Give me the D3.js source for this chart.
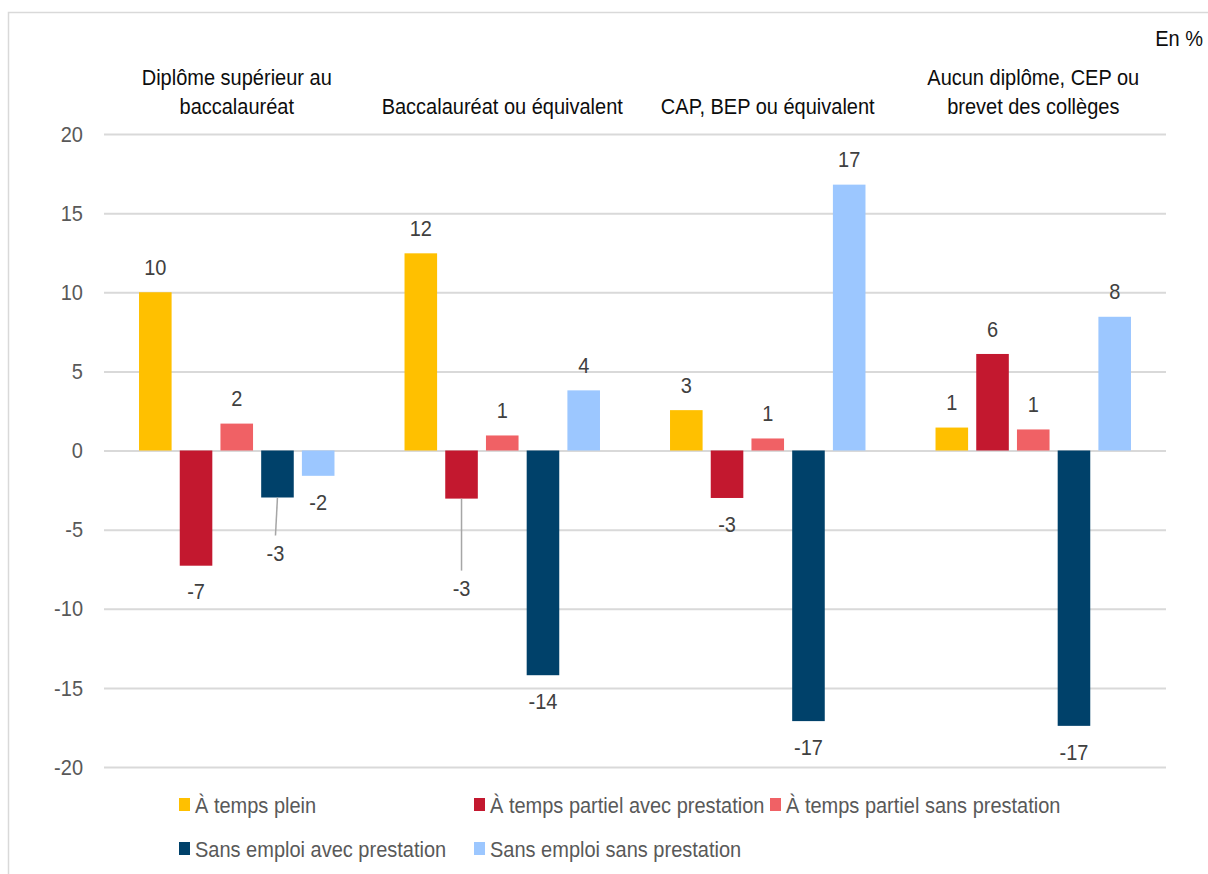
<!DOCTYPE html>
<html>
<head>
<meta charset="utf-8">
<script src="https://cdn.jsdelivr.net/npm/d3@7"></script>
<style>
  html, body { margin: 0; padding: 0; background: #fff; }
  svg { display: block; font-family: "Liberation Sans", Arial, sans-serif; }
</style>
</head>
<body>
<svg id="chart" width="1208" height="874"></svg>
<script>
// ---- Data ----
const categories = [
  ["Diplôme supérieur au", "baccalauréat"],
  ["Baccalauréat ou équivalent"],
  ["CAP, BEP ou équivalent"],
  ["Aucun diplôme, CEP ou", "brevet des collèges"]
];
const seriesNames = [
  "À temps plein",
  "À temps partiel avec prestation",
  "À temps partiel sans prestation",
  "Sans emploi avec prestation",
  "Sans emploi sans prestation"
];
const tempsPlein        = [10.0, 12.46, 2.55, 1.45];
const partielAvec       = [-7.28, -3.04, -3.0, 6.1];
const partielSans       = [1.7, 0.95, 0.76, 1.33];
const sansEmploiAvec    = [-2.97, -14.2, -17.1, -17.4];
const sansEmploiSans    = [-1.6, 3.8, 16.8, 8.45];
const yTicks = [20, 15, 10, 5, 0, -5, -10, -15, -20];
const unitLabel = "En %";

const seriesValues = [tempsPlein, partielAvec, partielSans, sansEmploiAvec, sansEmploiSans];
const colors = ["#ffc000", "#c3182f", "#f06165", "#00416a", "#9cc7ff"];

// ---- Layout ----
const svg = d3.select("#chart");
const W = 1208, H = 874;
const plot = { left: 104, right: 1166, top: 134, bottom: 767 };
const FS = 20, SY = 1.1;           // font size and vertical stretch of text
const fmt = v => String(Math.round(v));   // hyphen-minus like the source

function label(parent, x, y, txt, anchor, fill) {
  return parent.append("text")
    .attr("transform", `translate(${x},${y}) scale(1,${SY})`)
    .attr("dy", "0.35em")
    .attr("text-anchor", anchor)
    .attr("font-size", FS)
    .attr("fill", fill)
    .text(txt);
}

// frame
svg.append("path")
  .attr("d", `M8.5,${H} L8.5,12.5 L${W},12.5`)
  .attr("fill", "none").attr("stroke", "#d9d9d9").attr("stroke-width", 1.5);

const y = d3.scaleLinear().domain([-20, 20]).range([plot.bottom, plot.top]);
const x0 = d3.scaleBand().domain(d3.range(categories.length))
  .range([plot.left, plot.right]).paddingInner(0).paddingOuter(0);
const x1 = d3.scaleBand().domain(d3.range(seriesNames.length))
  .range([0, x0.bandwidth()]).paddingInner(0.2).paddingOuter(0.86);

// gridlines + tick labels
const yAxis = d3.axisLeft(y).tickValues(yTicks).tickSize(-(plot.right - plot.left)).tickFormat(() => "");
const gAxis = svg.append("g").attr("transform", `translate(${plot.left},0)`).call(yAxis);
gAxis.select(".domain").remove();
gAxis.selectAll(".tick line").attr("stroke", "#d9d9d9").attr("stroke-width", 2);
gAxis.selectAll(".tick text").remove();
const gTick = svg.append("g");
yTicks.forEach(t => label(gTick, 83, y(t), fmt(t), "end", "#595959"));

// bars
const data = [];
categories.forEach((c, ci) => {
  seriesValues.forEach((vals, si) => data.push({ ci, si, v: vals[ci] }));
});

svg.append("g").selectAll("rect").data(data).join("rect")
  .attr("x", d => x0(d.ci) + x1(d.si))
  .attr("width", x1.bandwidth())
  .attr("y", d => d.v >= 0 ? y(d.v) : y(0))
  .attr("height", d => Math.abs(y(d.v) - y(0)))
  .attr("fill", d => colors[d.si]);

// data labels (extra vertical displacement for two labels with leader lines)
const labelShift = { "0-3": 30, "1-1": 64 };
const gl = svg.append("g");
data.forEach(d => {
  const cx = x0(d.ci) + x1(d.si) + x1.bandwidth() / 2;
  const end = y(d.v);
  const key = d.ci + "-" + d.si;
  const extra = labelShift[key] || 0;
  const ly = d.v >= 0 ? end - 25 : end + 26 + extra;
  const dx = (extra && d.ci === 0) ? -2 : 0;
  if (extra) {
    gl.append("line")
      .attr("x1", cx).attr("y1", end)
      .attr("x2", cx + dx).attr("y2", ly - 18)
      .attr("stroke", "#a6a6a6").attr("stroke-width", 1.5);
  }
  label(gl, cx + dx, ly, fmt(d.v), "middle", "#404040");
});

// category labels
const gc = svg.append("g");
categories.forEach((lines, ci) => {
  const cx = x0(ci) + x0.bandwidth() / 2;
  lines.forEach((ln, li) => {
    label(gc, cx, 106 - (lines.length - 1 - li) * 29, ln, "middle", "#0d0d0d");
  });
});

// unit
label(svg, 1203, 38, unitLabel, "end", "#0d0d0d");

// legend
const legendPos = [[179, 805], [474, 805], [770, 805], [179, 849], [474, 849]];
const lg = svg.append("g");
seriesNames.forEach((name, i) => {
  const [lx, ly] = legendPos[i];
  lg.append("rect").attr("x", lx).attr("y", ly - 7).attr("width", 11).attr("height", 13)
    .attr("fill", colors[i]);
  label(lg, lx + 16, ly, name, "start", "#595959");
});
</script>
</body>
</html>
